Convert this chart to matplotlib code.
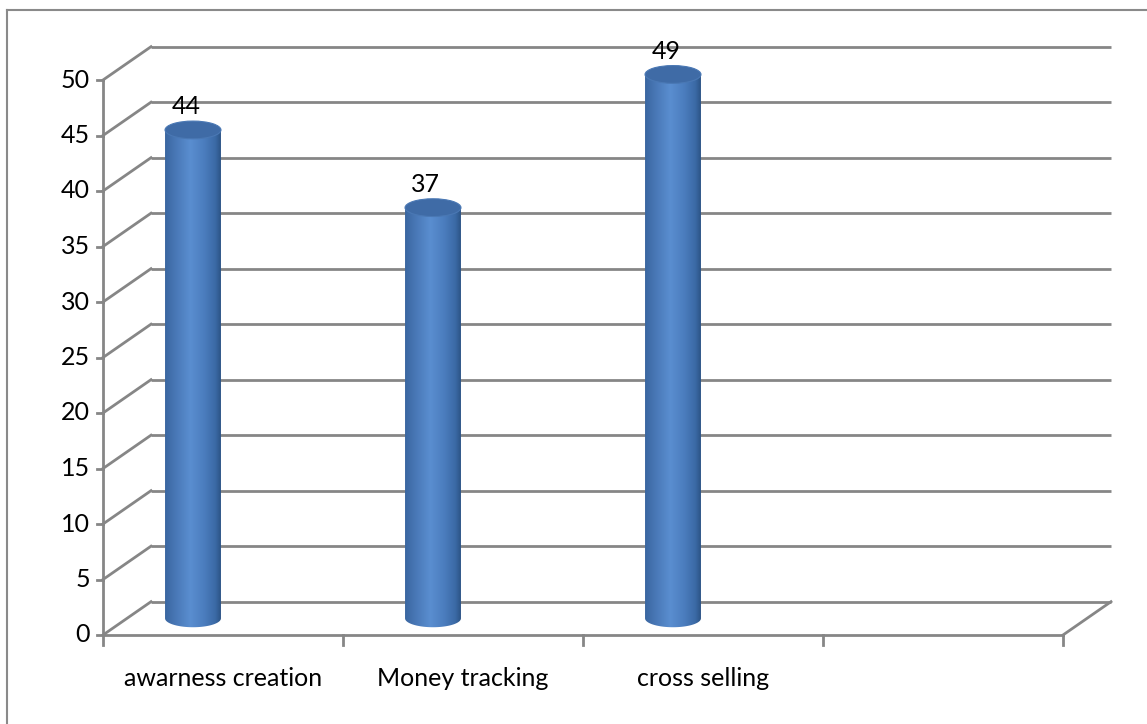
import numpy as np
import matplotlib
matplotlib.use("Agg")
import matplotlib.pyplot as plt
from matplotlib.path import Path
from matplotlib.patches import PathPatch, Ellipse
from matplotlib.colors import LinearSegmentedColormap
from matplotlib.lines import Line2D

categories = ["awarness creation", "Money tracking", "cross selling", ""]
values = [44, 37, 49]
yticks = [0, 5, 10, 15, 20, 25, 30, 35, 40, 45, 50]

plt.rcParams['font.family'] = ['Lato', 'DejaVu Sans']

W, H = 1147, 724
fig = plt.figure(figsize=(W / 100, H / 100), dpi=100)
ax = fig.add_axes([0, 0, 1, 1])
# front plane: x 0..4 -> 103..1063 px, value 0..50 -> 635..80 px
pxc = 240.0
pxv = 11.1
ax.set_xlim(-103 / pxc, (W - 103) / pxc)
ax.set_ylim(-(H - 635) / pxv, 635 / pxv)
ax.axis("off")

# depth offset of the back wall
ddx, ddy = 0.2, 3.0
ncat = len(categories)
gc = "#868686"
lw = 2.0
fs = 18

# back wall gridlines and left wall diagonals
for v in yticks:
    ax.plot([ddx, ncat + ddx], [v + ddy, v + ddy], color=gc, lw=lw, zorder=1, solid_capstyle="butt")
    ax.plot([0, ddx], [v, v + ddy], color=gc, lw=lw, zorder=1)
    ax.plot([-0.025, 0], [v, v], color=gc, lw=lw, zorder=1)
    ax.text(-0.055, v, str(v), ha="right", va="center", fontsize=fs, color="#000000")

# front axis, floor edge, right floor edge
ax.plot([0, 0], [0, yticks[-1]], color=gc, lw=lw, zorder=1)
ax.plot([0, ncat], [0, 0], color=gc, lw=lw, zorder=1)
ax.plot([ncat, ncat + ddx], [0, ddy], color=gc, lw=lw, zorder=1)
for i in range(ncat + 1):
    ax.plot([i, i], [0, -0.9], color=gc, lw=lw, zorder=1)

for i, c in enumerate(categories):
    ax.text(i + 0.5, -3.9, c, ha="center", va="center", fontsize=fs, color="#000000")

# cylinders
cmap = LinearSegmentedColormap.from_list("cyl", [
    (0.0, "#3a66a0"), (0.15, "#4674b2"), (0.45, "#5a8ed0"),
    (0.7, "#4b7dbe"), (0.9, "#3b6aa6"), (1.0, "#2c5486")])
bw = 0.233
eh = 1.6
grad = np.linspace(0, 1, 256).reshape(1, -1)
for i, v in enumerate(values):
    cx = i + 0.375
    y0 = ddy / 2
    y1 = v + ddy / 2
    t = np.linspace(np.pi, 2 * np.pi, 60)
    xs = np.concatenate([[cx - bw / 2], cx + bw / 2 * np.cos(t), [cx + bw / 2]])
    ys = np.concatenate([[y1], y0 + eh / 2 * np.sin(t), [y1]])
    verts = np.column_stack([xs, ys])
    body = PathPatch(Path(np.vstack([verts, verts[:1]]), closed=True),
                     facecolor="none", edgecolor="none", zorder=2)
    ax.add_patch(body)
    im = ax.imshow(grad, cmap=cmap, aspect="auto", interpolation="bilinear",
                   extent=[cx - bw / 2, cx + bw / 2, y0 - eh, y1], zorder=2)
    im.set_clip_path(body)
    top = Ellipse((cx, y1), bw, eh, facecolor="#3f6ba6", edgecolor="#4a78b4", lw=0.8, zorder=3)
    ax.add_patch(top)
    ax.annotate(str(v), (cx - 0.03, y1 + eh / 2), xytext=(0, 2), textcoords="offset points",
                ha="center", va="bottom", fontsize=fs, color="#000000", zorder=4)

# chart border (top and left edges visible)
fig.add_artist(Line2D([7 / W, 1], [1 - 10 / H, 1 - 10 / H], color="#8a8a8a", lw=1.5))
fig.add_artist(Line2D([7 / W, 7 / W], [0, 1 - 10 / H], color="#8a8a8a", lw=1.5))

fig.savefig("out.png", dpi=100)
